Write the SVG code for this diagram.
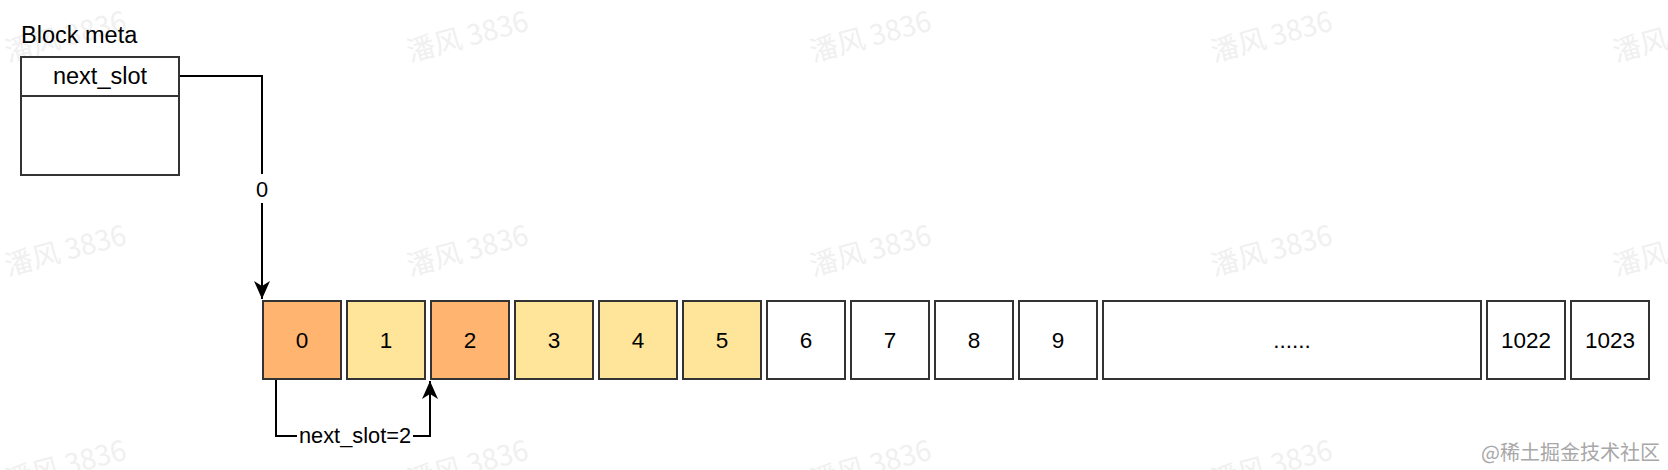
<svg xmlns="http://www.w3.org/2000/svg" width="1668" height="470" viewBox="0 0 1668 470">
<style>
text{font-family:"Liberation Sans",Arial,Helvetica,sans-serif;fill:#000}
.box{stroke:#333;stroke-width:2}
.w{fill:#fff}
.o{fill:#FFB570}
.y{fill:#FFE599}
.lbl{font-size:22.5px;text-anchor:middle}
.edge{fill:none;stroke:#000;stroke-width:2}
.wm{font-family:"Noto Sans CJK SC","Liberation Sans",sans-serif;font-size:28px;fill:#f0f0f0;text-anchor:middle}
</style>
<defs>
<marker id="arrow" markerUnits="userSpaceOnUse" markerWidth="18" markerHeight="18" refX="18" refY="9" orient="auto" viewBox="0 0 18 18">
<path d="M0,1 L18,9 L0,17 L5,9 Z" fill="#000"/>
</marker>
</defs>
<rect width="1668" height="470" fill="#fff"/>
<g id="watermarks">
<text class="wm" transform="translate(68,46) rotate(-15)">潘风 3836</text>
<text class="wm" transform="translate(470,46) rotate(-15)">潘风 3836</text>
<text class="wm" transform="translate(873,46) rotate(-15)">潘风 3836</text>
<text class="wm" transform="translate(1274,46) rotate(-15)">潘风 3836</text>
<text class="wm" transform="translate(1676,46) rotate(-15)">潘风 3836</text>
<text class="wm" transform="translate(68,260) rotate(-15)">潘风 3836</text>
<text class="wm" transform="translate(470,260) rotate(-15)">潘风 3836</text>
<text class="wm" transform="translate(873,260) rotate(-15)">潘风 3836</text>
<text class="wm" transform="translate(1274,260) rotate(-15)">潘风 3836</text>
<text class="wm" transform="translate(1676,260) rotate(-15)">潘风 3836</text>
<text class="wm" transform="translate(68,475) rotate(-15)">潘风 3836</text>
<text class="wm" transform="translate(470,475) rotate(-15)">潘风 3836</text>
<text class="wm" transform="translate(873,475) rotate(-15)">潘风 3836</text>
<text class="wm" transform="translate(1274,475) rotate(-15)">潘风 3836</text>
</g>
<g id="block-meta">
<text x="21" y="43" font-size="23.5">Block meta</text>
<rect class="box w" x="21" y="57" width="158" height="118"/>
<line x1="21" y1="96" x2="179" y2="96" stroke="#333" stroke-width="2"/>
<text x="100" y="84" font-size="23.5" text-anchor="middle">next_slot</text>
</g>
<g id="slot-0"><rect class="box o" x="263" y="301" width="78" height="78"/><text class="lbl" x="302" y="348">0</text></g>
<g id="slot-1"><rect class="box y" x="347" y="301" width="78" height="78"/><text class="lbl" x="386" y="348">1</text></g>
<g id="slot-2"><rect class="box o" x="431" y="301" width="78" height="78"/><text class="lbl" x="470" y="348">2</text></g>
<g id="slot-3"><rect class="box y" x="515" y="301" width="78" height="78"/><text class="lbl" x="554" y="348">3</text></g>
<g id="slot-4"><rect class="box y" x="599" y="301" width="78" height="78"/><text class="lbl" x="638" y="348">4</text></g>
<g id="slot-5"><rect class="box y" x="683" y="301" width="78" height="78"/><text class="lbl" x="722" y="348">5</text></g>
<g id="slot-6"><rect class="box w" x="767" y="301" width="78" height="78"/><text class="lbl" x="806" y="348">6</text></g>
<g id="slot-7"><rect class="box w" x="851" y="301" width="78" height="78"/><text class="lbl" x="890" y="348">7</text></g>
<g id="slot-8"><rect class="box w" x="935" y="301" width="78" height="78"/><text class="lbl" x="974" y="348">8</text></g>
<g id="slot-9"><rect class="box w" x="1019" y="301" width="78" height="78"/><text class="lbl" x="1058" y="348">9</text></g>
<g id="slot-more"><rect class="box w" x="1103" y="301" width="378" height="78"/><text class="lbl" x="1292" y="348">......</text></g>
<g id="slot-1022"><rect class="box w" x="1487" y="301" width="78" height="78"/><text class="lbl" x="1526" y="348">1022</text></g>
<g id="slot-1023"><rect class="box w" x="1571" y="301" width="78" height="78"/><text class="lbl" x="1610" y="348">1023</text></g>
<g id="connectors">
<path class="edge" d="M180,76 H262 V299" marker-end="url(#arrow)"/>
<rect x="254" y="174" width="16" height="29" fill="#fff"/>
<text x="262" y="197" font-size="21.8" text-anchor="middle">0</text>
<path class="edge" d="M276,380 V436 H430 V381" marker-end="url(#arrow)"/>
<rect x="297" y="424" width="116" height="24" fill="#fff"/>
<text x="355" y="443" font-size="21.8" text-anchor="middle">next_slot=2</text>
</g>
<text x="1660" y="460" font-size="20" text-anchor="end" style="font-family:'Noto Sans CJK SC','Liberation Sans',sans-serif;fill:#a8a8a8">@稀土掘金技术社区</text>
</svg>
